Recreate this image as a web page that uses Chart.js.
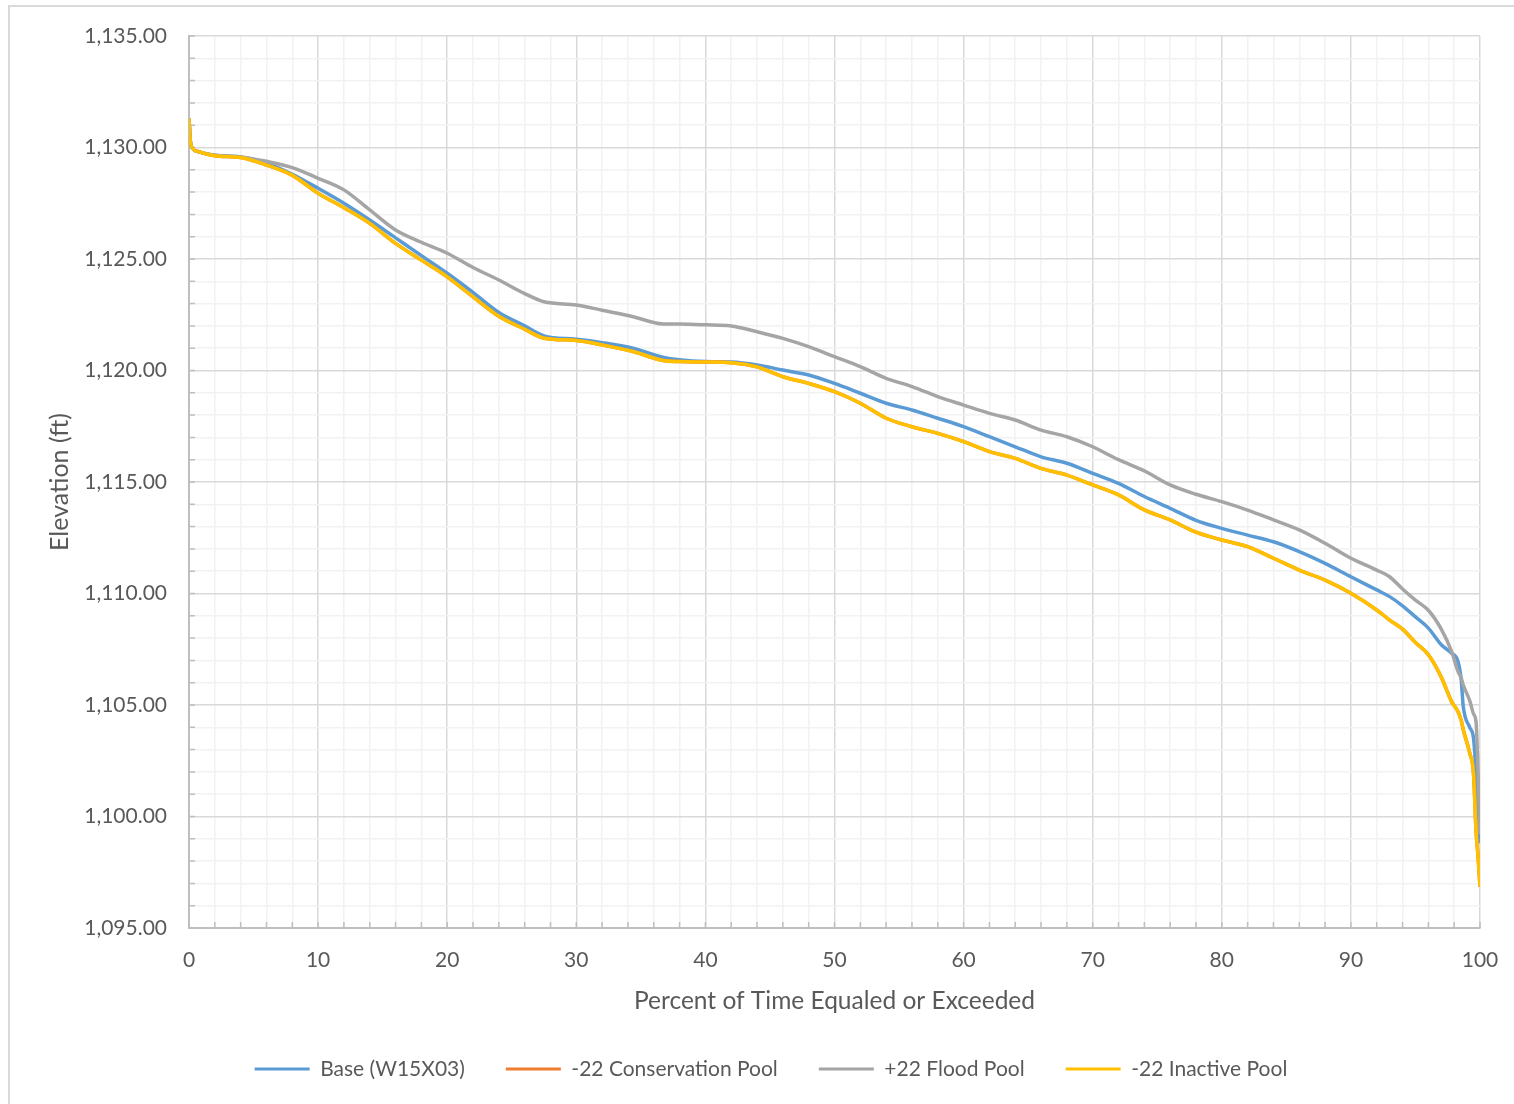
<!DOCTYPE html>
<html>
<head>
<meta charset="utf-8">
<script src="https://cdn.jsdelivr.net/npm/chart.js@4.4.0/dist/chart.umd.min.js"></script>
<style>
  html, body { margin: 0; padding: 0; background: #fff; overflow: hidden; }
  #frame { position: absolute; left: 8px; top: 5px; width: 1530px; height: 1120px; border: 2px solid #d9d9d9; box-sizing: border-box; }
  #wrap { position: absolute; left: 0; top: 0; width: 1514px; height: 1104px; }
</style>
</head>
<body>
<div id="frame"></div>
<div id="wrap"><canvas id="chart"></canvas></div>
<script>
'use strict';

// Percent of time equaled or exceeded (shared x values)
const pct = [0, 0.1, 0.3, 0.8, 2, 4, 6, 8, 10, 12, 14, 16, 18, 20, 22, 24, 26, 27.5, 30, 32,
  34.4, 36.7, 38, 40, 42, 44, 46, 48, 50, 52, 54, 56, 58, 60, 62, 64, 66, 68, 70, 72,
  74, 76, 78, 80, 82, 84, 86, 88, 90, 92, 93, 94, 95, 96, 97, 97.8, 98.3, 98.55, 98.7, 99.2,
  99.5, 99.7, 99.85, 100];

// Elevations (ft)
const baseW15X03 = [1131.3, 1130.3, 1129.95, 1129.8, 1129.65, 1129.58, 1129.3, 1128.8, 1128.17, 1127.5,
  1126.75, 1125.95, 1125.15, 1124.36, 1123.5, 1122.6, 1122.0, 1121.55, 1121.4, 1121.25,
  1121.0, 1120.6, 1120.48, 1120.4, 1120.38, 1120.25, 1120.02, 1119.8, 1119.42, 1118.98,
  1118.53, 1118.23, 1117.86, 1117.48, 1117.03, 1116.58, 1116.13, 1115.84, 1115.39, 1114.94,
  1114.35, 1113.82, 1113.28, 1112.92, 1112.62, 1112.32, 1111.88, 1111.35, 1110.75, 1110.16,
  1109.86, 1109.45, 1108.95, 1108.45, 1107.7, 1107.32, 1106.94, 1106.1, 1104.95, 1104.0,
  1103.5, 1101.9, 1100.5, 1098.8];

const floodPool = [1131.3, 1130.3, 1129.95, 1129.8, 1129.65, 1129.58, 1129.38, 1129.1, 1128.62, 1128.1,
  1127.2, 1126.3, 1125.75, 1125.26, 1124.62, 1124.06, 1123.45, 1123.08, 1122.94, 1122.7,
  1122.41, 1122.09, 1122.08, 1122.05, 1122.0, 1121.74, 1121.44, 1121.07, 1120.62, 1120.17,
  1119.65, 1119.28, 1118.83, 1118.45, 1118.08, 1117.78, 1117.33, 1117.03, 1116.58, 1116.0,
  1115.5, 1114.87, 1114.45, 1114.12, 1113.74, 1113.3, 1112.85, 1112.25, 1111.58, 1111.05,
  1110.75, 1110.2, 1109.7, 1109.25, 1108.4, 1107.4, 1106.5, 1106.2, 1105.9, 1105.2,
  1104.6, 1104.2, 1102.0, 1099.2];

const inactivePool = [1131.3, 1130.3, 1129.95, 1129.8, 1129.63, 1129.55, 1129.21, 1128.75, 1127.95, 1127.3,
  1126.6, 1125.7, 1124.95, 1124.2, 1123.3, 1122.43, 1121.85, 1121.45, 1121.35, 1121.15,
  1120.85, 1120.45, 1120.4, 1120.38, 1120.35, 1120.16, 1119.72, 1119.42, 1119.05, 1118.53,
  1117.86, 1117.48, 1117.18, 1116.81, 1116.36, 1116.06, 1115.61, 1115.31, 1114.87, 1114.42,
  1113.75, 1113.3, 1112.75, 1112.4, 1112.1, 1111.58, 1111.05, 1110.6, 1110.01, 1109.26,
  1108.81, 1108.4, 1107.8, 1107.25, 1106.25, 1105.15, 1104.7, 1104.3, 1103.9, 1102.85,
  1101.9, 1099.3, 1098.2, 1096.85];

// Conservation pool lies under the inactive pool curve
const conservationPool = inactivePool.slice();

const seriesNames = ['Base (W15X03)', '-22 Conservation Pool', '+22 Flood Pool', '-22 Inactive Pool'];
const seriesColors = ['#5b9bd5', '#ed7d31', '#a5a5a5', '#ffc000'];
const seriesValues = [baseW15X03, conservationPool, floodPool, inactivePool];

const FONT = 'Lato, "Open Sans", sans-serif';
const TEXT = '#595959';
const PAD_LEFT = 62;

const datasets = seriesValues.map((vals, i) => ({
  label: seriesNames[i],
  data: pct.map((x, j) => ({x: x, y: vals[j]})),
  borderColor: seriesColors[i],
  backgroundColor: seriesColors[i],
  borderWidth: 3.5,
  pointRadius: 0,
  cubicInterpolationMode: 'monotone',
  order: seriesValues.length - i
}));

// Short minor tick marks drawn inside the plot along both axes
const innerTicks = {
  id: 'innerTicks',
  beforeDatasetsDraw(chart) {
    const {ctx, chartArea: a, scales: {x, y}} = chart;
    ctx.save();
    ctx.strokeStyle = '#bfbfbf';
    ctx.lineWidth = 1.5;
    ctx.beginPath();
    x.ticks.forEach(t => {
      const px = x.getPixelForValue(t.value);
      ctx.moveTo(px, a.bottom);
      ctx.lineTo(px, a.bottom - 6);
    });
    y.ticks.forEach(t => {
      const py = y.getPixelForValue(t.value);
      ctx.moveTo(a.left, py);
      ctx.lineTo(a.left + 6, py);
    });
    ctx.stroke();
    ctx.restore();
  }
};

new Chart(document.getElementById('chart'), {
  type: 'line',
  data: {datasets: datasets},
  plugins: [innerTicks],
  options: {
    responsive: true,
    maintainAspectRatio: false,
    animation: false,
    layout: {padding: {top: 36, right: 34, left: PAD_LEFT, bottom: 14.5}},
    plugins: {
      tooltip: {enabled: false},
      legend: {
        position: 'bottom',
        labels: {
          font: {family: FONT, size: 21},
          color: TEXT,
          boxWidth: 55,
          boxHeight: 3,
          padding: 41,
          sort: (a, b) => a.datasetIndex - b.datasetIndex,
          generateLabels: (chart) => {
            const items = Chart.defaults.plugins.legend.labels.generateLabels(chart);
            items.forEach(it => { it.lineWidth = 0; });
            return items;
          }
        }
      }
    },
    scales: {
      x: {
        type: 'linear',
        min: 0,
        max: 100,
        afterFit: (scale) => {
          scale.height = 89.5;
          scale.paddingLeft = 0;
          scale.paddingRight = 0;
        },
        border: {color: '#bfbfbf', width: 2},
        grid: {
          drawTicks: false,
          lineWidth: 1.5,
          color: (ctx) => ctx.tick && ctx.tick.value % 10 === 0 ? '#d9d9d9' : '#f2f2f2'
        },
        ticks: {
          stepSize: 2,
          autoSkip: false,
          maxRotation: 0,
          padding: 20,
          color: TEXT,
          font: {family: FONT, size: 21},
          callback: (v) => v % 10 === 0 ? String(v) : ''
        },
        title: {
          display: true,
          text: 'Percent of Time Equaled or Exceeded',
          color: TEXT,
          font: {family: FONT, size: 24.5},
          padding: {top: 0, bottom: 2}
        }
      },
      y: {
        type: 'linear',
        min: 1095,
        max: 1135,
        afterFit: (scale) => { scale.width = 189 - PAD_LEFT; },
        border: {color: '#bfbfbf', width: 2},
        grid: {
          drawTicks: false,
          lineWidth: 1.5,
          color: (ctx) => ctx.tick && ctx.tick.value % 5 === 0 ? '#d9d9d9' : '#f2f2f2'
        },
        ticks: {
          stepSize: 1,
          autoSkip: false,
          padding: 22,
          color: TEXT,
          font: {family: FONT, size: 21},
          callback: (v) => v % 5 === 0 ? v.toLocaleString('en-US', {minimumFractionDigits: 2, maximumFractionDigits: 2}) : ''
        },
        title: {
          display: true,
          text: 'Elevation (ft)',
          color: TEXT,
          font: {family: FONT, size: 25},
          padding: {top: -17, bottom: 0}
        }
      }
    }
  }
});
</script>
</body>
</html>
